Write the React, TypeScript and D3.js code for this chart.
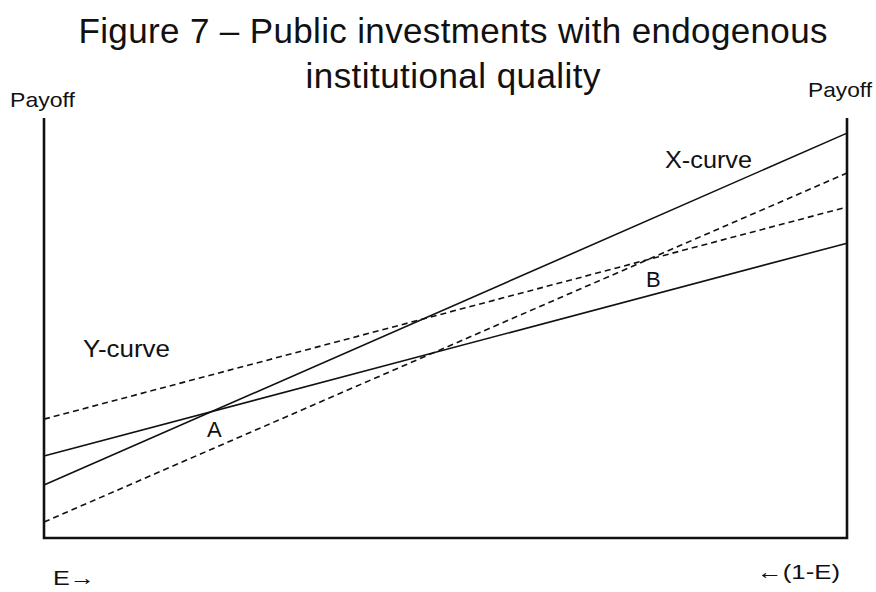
import React, { useRef, useEffect } from 'react';
import * as d3 from 'd3';

// payoff at E = 0 (left) and E = 1 (right), 0..100 scale
const curveNames = ['X-curve', 'Y-curve', 'X-dashed', 'Y-dashed'];
const leftValues = [12.6, 19.5, 3.8, 28.3];
const rightValues = [96.4, 70.2, 86.9, 78.8];
const dashed = [false, false, true, true];

const titleLines = ['Figure 7 \u2013 Public investments with endogenous', 'institutional quality'];
const titleWidths = [749, 295];

const W = 876;
const H = 592;
const FONT = '"Liberation Sans", Arial, sans-serif';

const App: React.FC = () => {
  const svgRef = useRef<SVGSVGElement>(null);

  useEffect(() => {
    if (!svgRef.current) return;
    const svg = d3.select(svgRef.current);
    svg.selectAll('*').remove();

    const x = d3.scaleLinear().domain([0, 1]).range([44, 847]);
    const y = d3.scaleLinear().domain([0, 100]).range([538, 118]);

    const g = svg.append('g');

    // title
    g.selectAll('text.title')
      .data(titleLines)
      .enter()
      .append('text')
      .attr('class', 'title')
      .attr('x', 453)
      .attr('y', (_, i) => 43 + i * 45)
      .attr('text-anchor', 'middle')
      .attr('font-family', FONT)
      .attr('font-size', 35)
      .attr('textLength', (_, i) => titleWidths[i])
      .attr('lengthAdjust', 'spacing')
      .attr('fill', '#111')
      .text((d) => d);

    // curves
    const line = d3.line<[number, number]>()
      .x((d) => x(d[0]))
      .y((d) => y(d[1]));

    curveNames.forEach((name, i) => {
      g.append('path')
        .attr('class', name)
        .attr('d', line([[0, leftValues[i]], [1, rightValues[i]]]))
        .attr('fill', 'none')
        .attr('stroke', '#111')
        .attr('stroke-width', 1.6)
        .attr('stroke-dasharray', dashed[i] ? '6,4' : null);
    });

    // axes frame: left, bottom, right
    g.append('path')
      .attr('d', `M${x(0)},${y(100)}V${y(0)}H${x(1)}V${y(100)}`)
      .attr('fill', 'none')
      .attr('stroke', '#111')
      .attr('stroke-width', 2.6);

    const label = (text: string, px: number, py: number, size: number, len?: number) => {
      const t = g.append('text')
        .attr('x', px)
        .attr('y', py)
        .attr('font-family', FONT)
        .attr('font-size', size)
        .attr('fill', '#111')
        .text(text);
      if (len) t.attr('textLength', len).attr('lengthAdjust', 'spacingAndGlyphs');
    };

    label('Payoff', 10, 107, 21, 65);
    label('Payoff', 808, 97, 21, 64);
    label('X-curve', 665, 168, 24, 87);
    label('Y-curve', 83, 357, 24, 87);
    label('A', 207, 437, 22);
    label('B', 646, 287, 22);
    label('E\u2192', 53, 585, 21, 42);
    label('\u2190(1-E)', 757, 579, 21, 83);
  }, []);

  return (
    <svg
      ref={svgRef}
      width={W}
      height={H}
      style={{ position: 'absolute', left: 0, top: 0, background: '#fff' }}
    />
  );
};

export default App;
